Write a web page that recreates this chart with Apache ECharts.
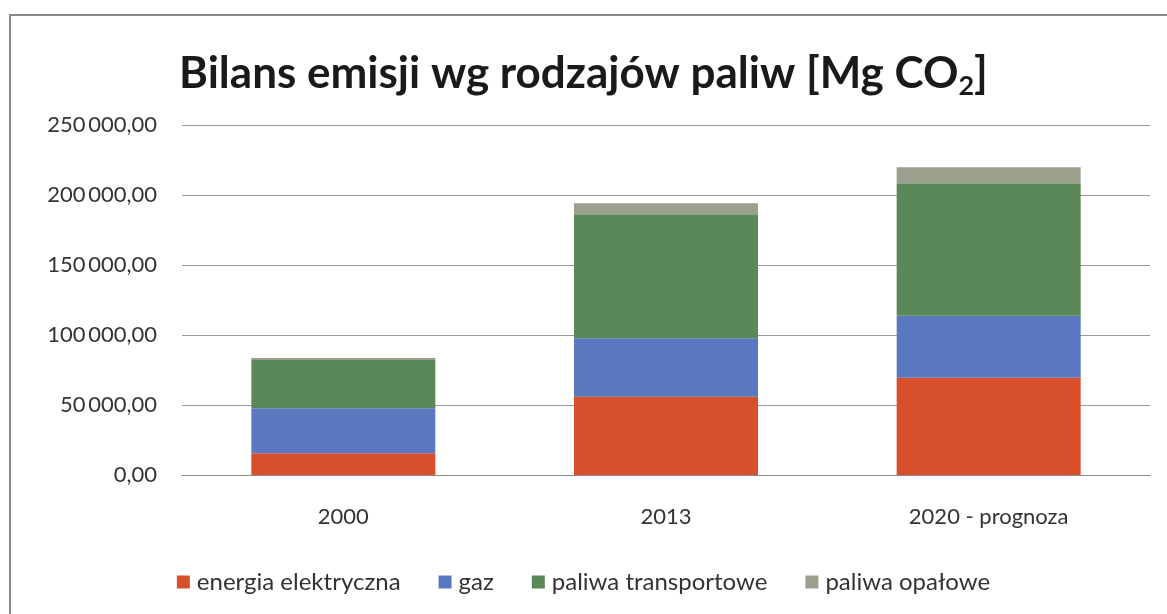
<!DOCTYPE html>
<html>
<head>
<meta charset="utf-8">
<script src="https://cdn.jsdelivr.net/npm/echarts@6/dist/echarts.min.js"></script>
<style>
  html, body { margin: 0; padding: 0; background: #fff; }
  #main { width: 1167px; height: 614px; }
</style>
</head>
<body>
<div id="main"></div>
<script>
// dane
var lata = ['2000', '2013', '2020 - prognoza'];
var energiaElektryczna = [15500, 55900, 69500];
var gaz = [32100, 41700, 44300];
var paliwaTransportowe = [34500, 88600, 94600];
var paliwaOpalowe = [1500, 7900, 11400];

var chart = echarts.init(document.getElementById('main'));
var font = 'Lato, "Open Sans", sans-serif';

function formatPL(v) {
  // 250000 -> "250 000,00"
  var s = Math.round(v).toString().replace(/\B(?=(\d{3})+(?!\d))/g, '\u2009');
  return s + ',00';
}

function seria(nazwa, dane, kolor) {
  return {
    name: nazwa,
    type: 'bar',
    stack: 'suma',
    barWidth: 184,
    data: dane,
    itemStyle: { color: kolor }
  };
}

var option = {
  backgroundColor: '#fff',
  animation: false,
  textStyle: { fontFamily: font },
  graphic: [{
    type: 'rect',
    shape: { x: 10, y: 15, width: 1170, height: 610 },
    style: { fill: 'none', stroke: '#8a8a8a', lineWidth: 2 }
  }],
  title: {
    text: 'Bilans emisji wg rodzajów paliw [Mg CO{sub|2}]',
    left: 'center',
    top: 42,
    textStyle: {
      fontFamily: font,
      fontSize: 44,
      fontWeight: 'bold',
      color: '#1a1a1a',
      rich: {
        sub: { fontFamily: font, fontSize: 27, fontWeight: 'bold', color: '#1a1a1a', padding: [26, 0, 0, 0] }
      }
    }
  },
  grid: { left: 182, right: 17, top: 125, bottom: 139 },
  xAxis: {
    type: 'category',
    data: lata,
    axisLine: { lineStyle: { color: '#8c8c8c' } },
    axisTick: { show: false },
    axisLabel: { color: '#333', fontSize: 22, margin: 31, fontFamily: font }
  },
  yAxis: {
    type: 'value',
    min: 0,
    max: 250000,
    interval: 50000,
    axisLine: { show: false },
    axisTick: { show: false },
    splitLine: { lineStyle: { color: '#9a9a9a', width: 1 } },
    axisLabel: { color: '#333', fontSize: 22, margin: 25, fontFamily: font, formatter: formatPL }
  },
  legend: {
    bottom: 15,
    left: 'center',
    itemWidth: 13,
    itemHeight: 13,
    itemGap: 38,
    icon: 'rect',
    textStyle: { color: '#333', fontSize: 24, fontFamily: font, padding: [0, 0, 0, 2] },
    data: ['energia elektryczna', 'gaz', 'paliwa transportowe', 'paliwa opałowe']
  },
  series: [
    seria('energia elektryczna', energiaElektryczna, '#d84f2b'),
    seria('gaz', gaz, '#5a78c0'),
    seria('paliwa transportowe', paliwaTransportowe, '#5b8858'),
    seria('paliwa opałowe', paliwaOpalowe, '#9ba08c')
  ]
};

chart.setOption(option);
</script>
</body>
</html>
